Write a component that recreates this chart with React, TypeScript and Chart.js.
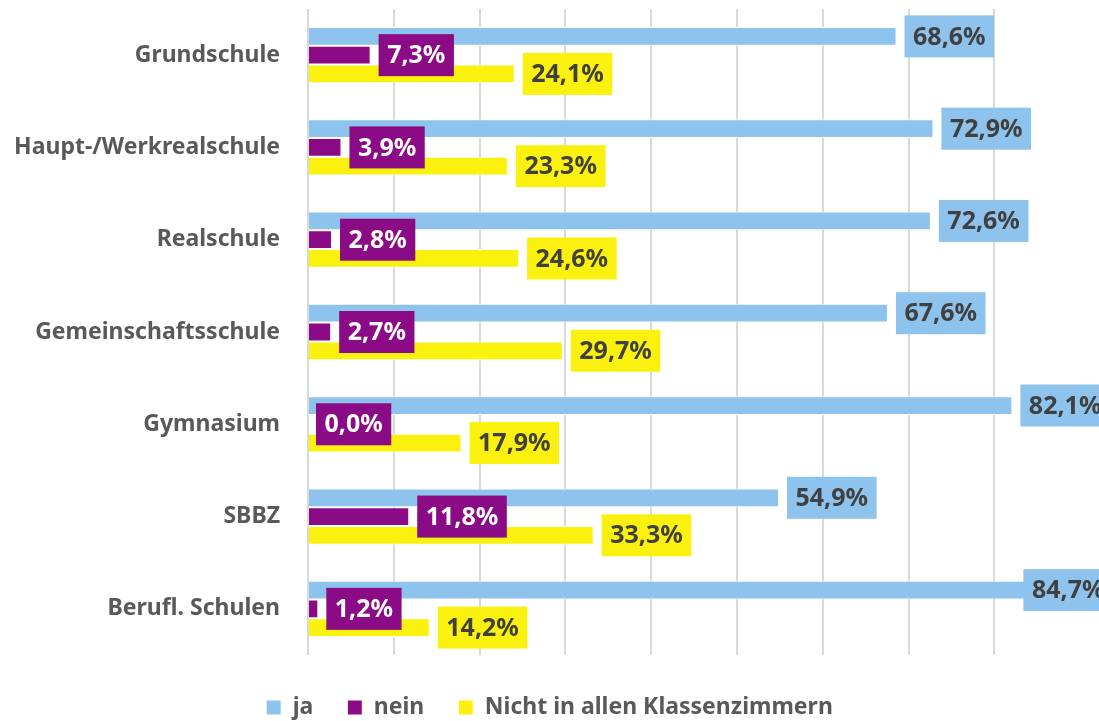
import React, { useEffect, useRef } from "react";
import { Chart, registerables } from "chart.js";

Chart.register(...registerables);

const categories = [
  "Grundschule",
  "Haupt-/Werkrealschule",
  "Realschule",
  "Gemeinschaftsschule",
  "Gymnasium",
  "SBBZ",
  "Berufl. Schulen",
];
const seriesNames = ["ja", "nein", "Nicht in allen Klassenzimmern"];
const jaValues = [68.6, 72.9, 72.6, 67.6, 82.1, 54.9, 84.7];
const neinValues = [7.3, 3.9, 2.8, 2.7, 0.0, 11.8, 1.2];
const nichtValues = [24.1, 23.3, 24.6, 29.7, 17.9, 33.3, 14.2];

const COLORS = ["#8DC3EC", "#8B0A85", "#FAF20E"];
const LABEL_TEXT = ["#404040", "#FFFFFF", "#404040"];
const FONT = "'Noto Sans', sans-serif";

const labelPlugin = {
  id: "boxLabels",
  beforeLayout(chart: any) {
    const lg = chart.legend;
    if (lg && !lg._patched) {
      const orig = lg.fit;
      lg.fit = function (this: any) {
        orig.call(this);
        this.height = 59;
      };
      lg._patched = true;
    }
  },
  afterDatasetsDraw(chart: any) {
    const ctx = chart.ctx;
    ctx.save();
    ctx.font = `bold 25px ${FONT}`;
    ctx.textAlign = "center";
    ctx.textBaseline = "middle";
    const limit = chart.chartArea.right + 14;
    chart.data.datasets.forEach((ds: any, i: number) => {
      const meta = chart.getDatasetMeta(i);
      meta.data.forEach((bar: any, j: number) => {
        const v = ds.data[j] as number;
        const text = v.toFixed(1).replace(".", ",") + "%";
        const w = ctx.measureText(text).width + 17;
        const h = 42;
        let x = bar.x + 8;
        if (x + w > limit) x = limit - w;
        const y = bar.y - h / 2;
        ctx.fillStyle = COLORS[i];
        ctx.fillRect(x, y, w, h);
        ctx.fillStyle = LABEL_TEXT[i];
        ctx.fillText(text, x + w / 2, bar.y + 1);
      });
    });
    ctx.restore();
  },
};

export default function App() {
  const ref = useRef<HTMLCanvasElement | null>(null);
  useEffect(() => {
    if (!ref.current) return;
    const chart = new Chart(ref.current, {
      type: "bar",
      data: {
        labels: categories,
        datasets: [jaValues, neinValues, nichtValues].map((d, i) => ({
          label: seriesNames[i],
          data: d,
          backgroundColor: COLORS[i],
          borderColor: "#FFFFFF",
          borderWidth: 1,
          barPercentage: 1,
          categoryPercentage: 0.61,
        })),
      },
      options: {
        indexAxis: "y",
        animation: false,
        responsive: true,
        maintainAspectRatio: false,
        layout: { padding: { top: 9, right: 0, left: 0, bottom: 0 } },
        scales: {
          x: {
            min: 0,
            max: 92.2,
            afterBuildTicks: (scale: any) => {
              scale.ticks = scale.ticks.filter((t: any) => Math.abs(t.value % 10) < 1e-6);
            },
            afterFit: (scale: any) => {
              scale.height = 7;
              scale.paddingLeft = 0;
              scale.paddingRight = 0;
            },
            ticks: { display: false, stepSize: 10 },
            grid: { color: "#D9D9D9", lineWidth: 2, drawTicks: false },
            border: { display: false },
          },
          y: {
            afterFit: (scale: any) => {
              scale.width = 308;
              scale.paddingTop = 0;
              scale.paddingBottom = 0;
            },
            ticks: {
              color: "#595959",
              padding: 28,
              font: { family: FONT, size: 23, weight: "bold" },
            },
            grid: { display: false, drawTicks: false },
            border: { display: false },
          },
        },
        plugins: {
          legend: {
            position: "bottom",
            labels: {
              color: "#595959",
              boxWidth: 15,
              boxHeight: 15,
              padding: 34,
              font: { family: FONT, size: 23, weight: "bold" },
            },
          },
          tooltip: { enabled: false },
        },
      },
      plugins: [labelPlugin],
    });
    return () => chart.destroy();
  }, []);
  return (
    <div
      style={{
        position: "absolute",
        left: 0,
        top: 0,
        width: 1099,
        height: 721,
        overflow: "hidden",
        background: "#FFFFFF",
      }}
    >
      <canvas ref={ref} />
    </div>
  );
}
